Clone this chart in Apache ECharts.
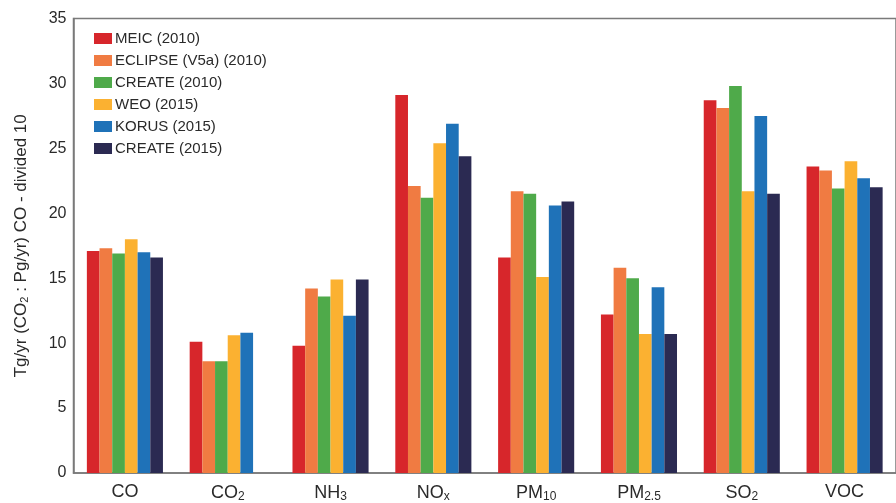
<!DOCTYPE html>
<html>
<head>
<meta charset="utf-8">
<script src="https://cdn.jsdelivr.net/npm/echarts@6/dist/echarts.min.js"></script>
<style>
  html, body { margin: 0; padding: 0; background: #fff; }
  #chart { width: 896px; height: 503px; }
</style>
</head>
<body>
<div id="chart"></div>
<script>
// Species on the x axis (trailing part is drawn as a subscript)
const categories = ['CO', 'CO2', 'NH3', 'NOx', 'PM10', 'PM2.5', 'SO2', 'VOC'];

// Inventory names shown in the legend
const seriesNames = ['MEIC (2010)', 'ECLIPSE (V5a) (2010)', 'CREATE (2010)', 'WEO (2015)', 'KORUS (2015)', 'CREATE (2015)'];

// Emissions per inventory, one value per species
const meic2010    = [17.1, 10.1,  9.8, 29.1, 16.6, 12.2, 28.7, 23.6];
const eclipse2010 = [17.3,  8.6, 14.2, 22.1, 21.7, 15.8, 28.1, 23.3];
const create2010  = [16.9,  8.6, 13.6, 21.2, 21.5, 15.0, 29.8, 21.9];
const weo2015     = [18.0, 10.6, 14.9, 25.4, 15.1, 10.7, 21.7, 24.0];
const korus2015   = [17.0, 10.8, 12.1, 26.9, 20.6, 14.3, 27.5, 22.7];
const create2015  = [16.6, null, 14.9, 24.4, 20.9, 10.7, 21.5, 22.0];

const seriesValues = [meic2010, eclipse2010, create2010, weo2015, korus2015, create2015];
const seriesColors = ['#d7262b', '#f07b42', '#4faa4a', '#fbb131', '#1f72b8', '#2b2a52'];

// Y axis ticks
const yMin = 0, yMax = 35, yStep = 5;

const FONT = '"Liberation Sans", Arial, sans-serif';
const TEXT = '#2a2a2a';

function splitSub(name) {
  const m = name.match(/^([A-Z]+)(.*)$/);
  return m[2] ? '{m|' + m[1] + '}{s|' + m[2] + '}' : '{m|' + m[1] + '}';
}

const chart = echarts.init(document.getElementById('chart'), null, { renderer: 'canvas' });

chart.setOption({
  animation: false,
  backgroundColor: '#fff',
  textStyle: { fontFamily: FONT },
  grid: {
    left: 73.5, right: -9.5, top: 18.5, bottom: 28.5,
    show: true, borderColor: '#7a7a7a', borderWidth: 1.5, backgroundColor: 'transparent'
  },
  legend: {
    orient: 'vertical',
    left: 89, top: 26,
    itemWidth: 18, itemHeight: 11, itemGap: 7,
    icon: 'rect',
    textStyle: { fontFamily: FONT, fontSize: 15, color: TEXT, padding: [0, 0, 0, -2] },
    data: seriesNames
  },
  xAxis: {
    type: 'category',
    data: categories,
    axisLine: { lineStyle: { color: '#7a7a7a', width: 1.5 } },
    axisTick: { show: false },
    axisLabel: {
      margin: 10,
      formatter: splitSub,
      rich: {
        m: { fontFamily: FONT, fontSize: 18, color: TEXT },
        s: { fontFamily: FONT, fontSize: 12, color: TEXT, verticalAlign: 'bottom', padding: [8, 0, 0, 0] }
      }
    }
  },
  yAxis: {
    type: 'value',
    min: yMin, max: yMax, interval: yStep,
    splitLine: { show: false },
    axisLine: { show: true, lineStyle: { color: '#7a7a7a', width: 1.5 } },
    axisTick: { show: false },
    axisLabel: { margin: 7, fontFamily: FONT, fontSize: 16, color: TEXT },
    name: '{m|Tg/yr (CO}{s|2}{m| : Pg/yr) CO - divided 10}',
    nameLocation: 'middle',
    nameGap: 43,
    nameTextStyle: {
      rich: {
        m: { fontFamily: FONT, fontSize: 17, color: TEXT },
        s: { fontFamily: FONT, fontSize: 11, color: TEXT, padding: [7, 0, 0, 0] }
      }
    }
  },
  series: seriesNames.map((name, i) => ({
    name: name,
    type: 'bar',
    data: seriesValues[i],
    barGap: '0%',
    barCategoryGap: '26%',
    itemStyle: { color: seriesColors[i] }
  }))
});
</script>
</body>
</html>
